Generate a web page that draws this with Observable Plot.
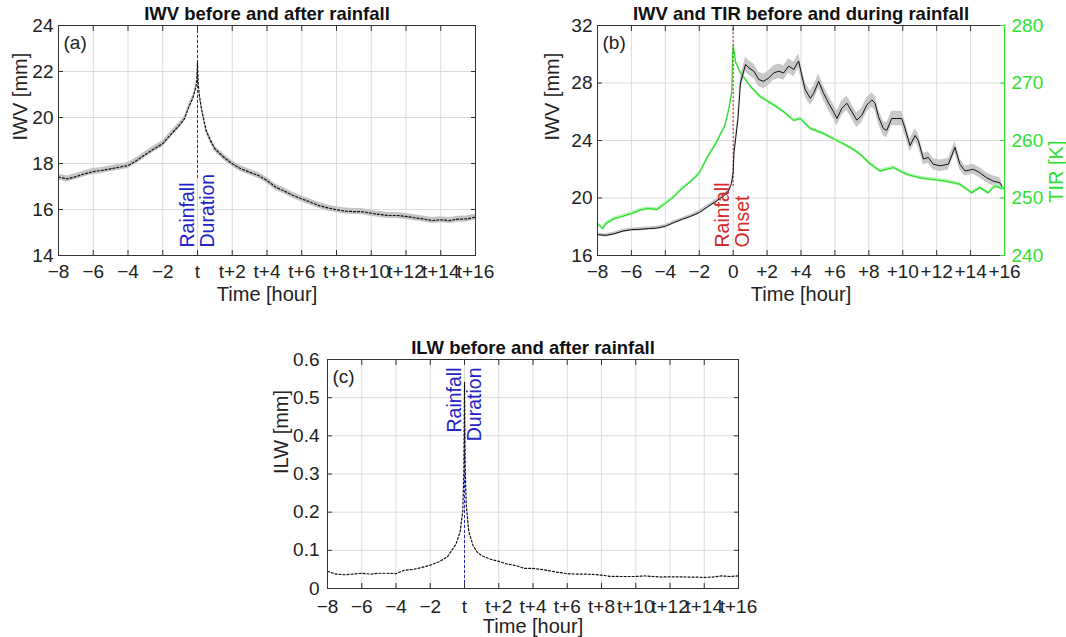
<!DOCTYPE html>
<html><head><meta charset="utf-8">
<script src="https://cdn.jsdelivr.net/npm/d3@7"></script>
<script src="https://cdn.jsdelivr.net/npm/@observablehq/plot@0.6"></script>
<style>
body{margin:0;background:#fff;}
#wrap{position:relative;width:1066px;height:637px;background:#fff;}
.panel{position:absolute;}
</style></head><body><div id="wrap">
<div class="panel" id="pa" style="left:0;top:0"></div>
<div class="panel" id="pb" style="left:530px;top:0"></div>
<div class="panel" id="pc" style="left:270px;top:330px"></div>
</div>
<script>
// ---------- tick data ----------
const xTickHours = [-8,-6,-4,-2,0,2,4,6,8,10,12,14,16];
const xLabelsRel = ["\u22128","\u22126","\u22124","\u22122","t","t+2","t+4","t+6","t+8","t+10","t+12","t+14","t+16"];
const xLabelsAbs = ["\u22128","\u22126","\u22124","\u22122","0","+2","+4","+6","+8","+10","+12","+14","+16"];
const iwvTicksA = [14,16,18,20,22,24];
const iwvTicksB = [16,20,24,28,32];
const tirTicks = [240,250,260,270,280];
const ilwTicks = [0,0.1,0.2,0.3,0.4,0.5,0.6];

// ---------- panel (a): IWV before and after rainfall ----------
const hoursA = [-8,-7.5,-7,-6.5,-6,-5.5,-5,-4.5,-4,-3.5,-3,-2.5,-2,-1.5,-1,-0.75,-0.5,-0.25,-0.1,-0.04,0,0.04,0.1,0.25,0.5,0.75,1,1.5,2,
  2.5,3,3.5,4,4.5,5,5.5,6,6.5,7,7.5,8,8.5,9,9.5,10,10.5,11,11.5,12,12.5,13,13.5,14,14.5,15,15.5,16];
const iwvA = [17.41,17.33,17.43,17.55,17.65,17.7,17.77,17.84,17.91,18.13,18.39,18.64,18.86,19.29,19.7,19.94,20.45,20.88,21.3,21.6,22.4,21.5,21.0,20.3,19.43,19.0,18.64,18.28,17.99,
  17.77,17.62,17.48,17.26,16.97,16.8,16.61,16.46,16.32,16.17,16.07,15.99,15.93,15.91,15.9,15.84,15.78,15.74,15.74,15.7,15.64,15.59,15.52,15.55,15.52,15.58,15.59,15.67];
const iwvASpread = 0.13;
const durationMarkA = [{x: 0, y1: 17.35, y2: 24}];

// ---------- panel (b): IWV and TIR before and during rainfall ----------
const hoursB = [-8,-7.5,-7,-6.5,-6,-5.5,-5,-4.5,-4,-3.5,-3,-2.5,-2,-1.5,-1,-0.5,-0.25,-0.1,
  0,0.05,0.28,0.43,0.73,0.92,1.22,1.51,1.8,2.1,
  2.39,2.69,2.98,3.27,3.57,3.86,4.06,4.25,4.55,4.75,
  5.04,5.33,5.63,5.92,6.12,6.41,6.71,7.0,7.29,7.59,
  7.88,8.18,8.37,8.57,8.86,9.06,9.35,9.65,9.94,10.14,
  10.43,10.73,10.92,11.22,11.51,11.8,12.2,12.69,13.08,13.37,
  13.67,14.16,14.55,14.94,15.33,15.73,15.85];
const iwvB = [17.45,17.4,17.52,17.7,17.8,17.82,17.87,17.91,18.03,18.29,18.52,18.73,18.99,19.39,19.78,20.2,20.55,21.0,
  21.75,23.15,25.46,28.0,29.29,29.06,28.82,28.24,28.12,28.35,
  28.7,28.82,28.7,29.18,28.94,29.53,28.47,27.53,26.94,27.29,
  28.12,27.29,26.59,26.0,25.53,26.24,26.59,26.0,25.41,25.76,
  26.47,26.82,26.59,25.65,24.82,24.71,25.53,25.53,25.53,24.82,
  23.65,24.35,24.0,22.71,22.82,22.35,22.24,22.35,23.53,22.35,
  21.88,22.0,21.76,21.41,21.18,21.06,20.8];
const iwvBSpread = [0.12,0.12,0.12,0.12,0.12,0.12,0.12,0.12,0.12,0.12,0.12,0.12,0.14,0.14,0.15,0.15,0.15,0.15,
  0.2,0.3,0.4,0.45,0.5,0.5,0.5,0.5,0.5,0.5,
  0.5,0.5,0.5,0.5,0.5,0.5,0.5,0.5,0.5,0.5,
  0.5,0.5,0.5,0.5,0.5,0.5,0.5,0.5,0.5,0.5,
  0.5,0.5,0.5,0.5,0.5,0.5,0.5,0.5,0.5,0.5,
  0.45,0.45,0.45,0.4,0.4,0.4,0.4,0.4,0.4,0.4,
  0.35,0.35,0.35,0.35,0.35,0.35,0.35];
const hoursTIR = [-8,-7.7,-7.5,-7,-6.5,-6,-5.5,-5,-4.5,-4,-3.5,-3,-2.5,-2,-1.5,-1,-0.5,-0.25,-0.08,-0.03,0,0.15,0.43,
  1.02,1.61,2.39,2.98,3.57,3.96,4.55,5.33,6.12,6.9,7.49,8.08,8.67,9.45,10.24,11.02,11.8,12.59,13.37,14.06,14.55,15.04,15.43,15.73,16];
const tirB = [245.55,244.67,245.55,246.42,246.83,247.3,247.88,248.18,248.0,249.05,250.2,251.68,252.85,254.3,257.2,259.6,262.5,265.5,268.5,275.0,276.5,273.6,271.8,
  269.4,267.6,266.2,265.0,263.5,263.8,262.1,261.2,260.0,258.8,257.6,255.9,254.7,255.3,254.1,253.5,253.2,252.9,252.4,250.9,251.8,250.9,252.1,251.8,251.6];
const onsetMarkB = [{x: 0, y1: 20.8, y2: 32}];

// ---------- panel (c): ILW before and after rainfall ----------
const hoursC = [-8,-7.5,-7,-6.5,-6,-5.5,-5,-4.5,-4,-3.5,-3,-2.5,-2,-1.5,-1,-0.5,
  -0.25,-0.1,-0.04,0,0.04,0.1,0.25,0.5,0.75,1,
  1.5,2,2.5,3,3.5,4,4.5,5,5.5,6,6.5,7,7.5,8,8.5,9,9.5,10,10.5,11,11.5,12,12.5,13,13.5,14,14.5,15,15.5,16];
const ilwC = [0.0447,0.0377,0.036,0.0377,0.04,0.0377,0.04,0.04,0.039,0.048,0.05,0.055,0.061,0.07,0.083,0.116,
  0.15,0.204,0.3,0.54,0.32,0.22,0.15,0.112,0.095,0.086,
  0.077,0.071,0.064,0.06,0.0525,0.0525,0.05,0.046,0.042,0.039,0.0377,0.0377,0.037,0.035,0.032,0.0315,0.0315,0.0315,0.033,0.0315,0.03,0.0307,0.0307,0.03,0.03,0.029,0.03,0.033,0.0315,0.033];
const durationMarkC = [{x: 0, y1: 0, y2: 0.41}];

// ---------- styles ----------
const FONT = "'Liberation Sans', Arial, Helvetica, sans-serif";
const BLUE = "#2424c8", RED = "#d42a2a", GREEN = "#2fe02f", GRID = "#dcdcdc", AX = "#333";
const FS_TICK = 19, FS_LABEL = 20, FS_TITLE = 18.5, FS_NOTE = 19.5;

function makePanel(o) {
  const xMap = new Map(xTickHours.map((d, i) => [d, o.xLabels[i]]));
  const marks = [
    Plot.gridX({ticks: xTickHours, stroke: GRID, strokeOpacity: 1}),
    Plot.gridY({ticks: o.yTicks, stroke: GRID, strokeOpacity: 1}),
    ...o.marks,
    Plot.frame({stroke: AX, strokeWidth: 1}),
    Plot.axisX({anchor: "bottom", ticks: xTickHours, tickSize: 5, dy: -5, tickFormat: () => "", label: null, stroke: AX}),
    Plot.axisX({anchor: "top", ticks: xTickHours, tickSize: 5, dy: 5, tickFormat: () => "", label: null, stroke: AX}),
    Plot.axisY({anchor: "left", ticks: o.yTicks, tickSize: 5, dx: 5, tickFormat: () => "", label: null, stroke: AX}),
    ...(o.rightMarks || [Plot.axisY({anchor: "right", ticks: o.yTicks, tickSize: 5, dx: -5, tickFormat: () => "", label: null, stroke: AX})]),
    Plot.axisX({anchor: "bottom", ticks: xTickHours, tickSize: 0, tickPadding: o.xPad ?? 9, tickFormat: d => xMap.get(d), label: null, fontSize: FS_TICK, fill: "#222"}),
    Plot.axisY({anchor: "left", ticks: o.yTicks, tickSize: 0, tickPadding: o.yPad ?? 5, tickFormat: o.yFmt, label: null, fontSize: FS_TICK, fill: "#222"}),
    Plot.text([o.title], {text: d => d, frameAnchor: "top", dy: -11, lineAnchor: "middle", fontSize: FS_TITLE, fontWeight: "bold", fill: "#111"}),
    Plot.text(["Time [hour]"], {text: d => d, frameAnchor: "bottom", dy: o.xLabelDy, lineAnchor: "middle", fontSize: FS_LABEL, fill: "#222"}),
    Plot.text([o.ylabel], {text: d => d, frameAnchor: "left", dx: o.yLabelDx, lineAnchor: "middle", rotate: -90, fontSize: FS_LABEL, fill: "#222"}),
    Plot.text([o.tag], {text: d => d, frameAnchor: "top-left", dx: 5, dy: 17, lineAnchor: "middle", fontSize: FS_TICK, textAnchor: "start", fill: "#222"})
  ];
  return Plot.plot({
    width: o.width, height: o.height,
    marginLeft: o.m[0], marginRight: o.m[1], marginTop: o.m[2], marginBottom: o.m[3],
    x: {domain: [-8, 16]},
    y: {domain: o.yDomain},
    style: {fontFamily: FONT, background: "#fff", overflow: "visible"},
    marks
  });
}

function noteMarks(words, color, anchor) {
  const top = anchor === "top";
  return words.map((w, i) => Plot.text([w], {
    text: d => d, x: 0, frameAnchor: anchor, dy: top ? 8 : -8, dx: i === 0 ? -10 : 10,
    rotate: -90, textAnchor: top ? "end" : "start", lineAnchor: "middle", fontSize: FS_NOTE, fill: color
  }));
}

// panel a
const dataA = hoursA.map((h, i) => ({h, v: iwvA[i]}));
document.getElementById("pa").append(makePanel({
  width: 520, height: 310, m: [58, 45, 25, 55],
  yDomain: [14, 24], yTicks: iwvTicksA, yFmt: d => String(d), xLabels: xLabelsRel,
  title: "IWV before and after rainfall", ylabel: "IWV [mm]", tag: "(a)", xLabelDy: 39, yLabelDx: -38,
  marks: [
    Plot.areaY(dataA, {x: "h", y1: d => d.v - iwvASpread, y2: d => d.v + iwvASpread, fill: "#c4c4c4"}),
    Plot.ruleX(durationMarkA, {x: "x", y1: "y1", y2: "y2", stroke: BLUE, strokeWidth: 1, strokeDasharray: "3,2"}),
    Plot.line(dataA, {x: "h", y: "v", stroke: "#111", strokeWidth: 1.2, strokeDasharray: "2,2"}),
    ...noteMarks(["Rainfall", "Duration"], BLUE, "bottom")
  ]
}));

// panel b
const toIwv = t => 16 + (t - 240) * 0.4;
const dataB = hoursB.map((h, i) => ({h, v: iwvB[i], s: iwvBSpread[i]}));
const dataT = hoursTIR.map((h, i) => ({h, v: toIwv(tirB[i])}));
document.getElementById("pb").append(makePanel({
  width: 536, height: 310, m: [67, 62, 25, 55],
  yDomain: [16, 32], yTicks: iwvTicksB, yFmt: d => String(d), xLabels: xLabelsAbs,
  title: "IWV and TIR before and during rainfall", ylabel: "IWV [mm]", tag: "(b)", xLabelDy: 39, yLabelDx: -45,
  marks: [
    Plot.areaY(dataB, {x: "h", y1: d => d.v - d.s, y2: d => d.v + d.s, fill: "#c8c8c8"}),
    Plot.areaY(dataT, {x: "h", y1: d => d.v - 0.12, y2: d => d.v + 0.12, fill: "#b8f5b8"}),
    Plot.line(dataT, {x: "h", y: "v", stroke: GREEN, strokeWidth: 1.3}),
    Plot.ruleX(onsetMarkB, {x: "x", y1: "y1", y2: "y2", stroke: RED, strokeWidth: 1, strokeDasharray: "2,2"}),
    Plot.line(dataB, {x: "h", y: "v", stroke: "#111", strokeWidth: 1}),
    ...noteMarks(["Rainfall", "Onset"], RED, "bottom")
  ],
  rightMarks: [
    Plot.ruleX([16], {stroke: GREEN, strokeWidth: 1.2}),
    Plot.axisY({anchor: "right", ticks: tirTicks.map(toIwv), tickSize: 5, dx: -5, tickFormat: () => "", label: null, stroke: GREEN}),
    Plot.axisY({anchor: "right", ticks: tirTicks.map(toIwv), tickSize: 0, tickPadding: 7, tickFormat: d => String(Math.round(240 + (d - 16) * 2.5)), label: null, fontSize: FS_TICK, fill: GREEN}),
    Plot.text(["TIR [K]"], {text: d => d, frameAnchor: "right", dx: 52, lineAnchor: "middle", rotate: -90, fontSize: FS_LABEL, fill: GREEN})
  ]
}));

// panel c
const dataC = hoursC.map((h, i) => ({h, v: ilwC[i]}));
document.getElementById("pc").append(makePanel({
  width: 530, height: 307, m: [57, 62, 29, 49],
  yDomain: [0, 0.6], yTicks: ilwTicks, yFmt: d => d === 0 ? "0" : d.toFixed(1), xLabels: xLabelsRel,
  xPad: 11, yPad: 8,
  title: "ILW before and after rainfall", ylabel: "ILW [mm]", tag: "(c)", xLabelDy: 38, yLabelDx: -46,
  marks: [
    Plot.ruleX(durationMarkC, {x: "x", y1: "y1", y2: "y2", stroke: BLUE, strokeWidth: 1, strokeDasharray: "3,2"}),
    Plot.line(dataC, {x: "h", y: "v", stroke: "#111", strokeWidth: 1.2, strokeDasharray: "2,2"}),
    ...noteMarks(["Rainfall", "Duration"], BLUE, "top")
  ]
}));
</script>
</body></html>
